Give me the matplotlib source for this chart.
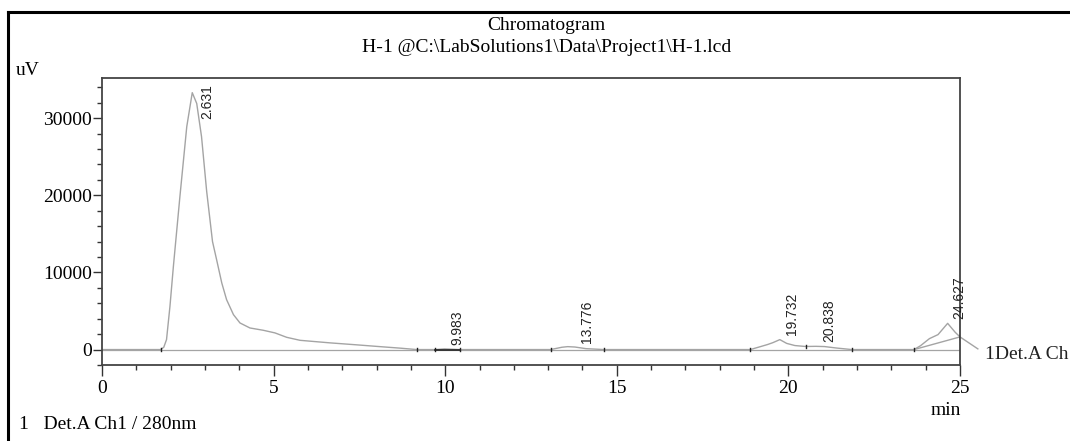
import matplotlib
matplotlib.use("Agg")
import matplotlib.pyplot as plt
from matplotlib.ticker import MultipleLocator
from matplotlib.lines import Line2D

# ---- data ----
time_min = [0.0, 1.71, 1.80, 1.88, 1.98, 2.08, 2.27, 2.47, 2.63, 2.76, 2.90, 3.05,
            3.22, 3.34, 3.49, 3.63, 3.83, 4.02, 4.31, 4.70, 5.04, 5.38, 5.77, 6.64,
            7.40, 8.07, 8.70, 9.17,
            9.70, 9.98, 10.42, 13.07, 13.40, 13.57, 13.78, 14.10, 14.63, 18.89,
            19.20, 19.39, 19.55, 19.75, 19.95, 20.19, 20.50, 20.80, 21.05, 21.40,
            21.85, 23.66, 23.85, 24.11, 24.36, 24.64, 24.86, 25.0]
signal_uv = [0, 0, 300, 1290, 5600, 10780, 19830, 28900, 33300, 31900, 27600, 20500,
             14000, 11640, 8630, 6470, 4530, 3450, 2800, 2500, 2160, 1590, 1200, 870,
             620, 390, 180, 0,
             0, 90, 0, 0, 300, 380, 330, 120, 0, 0,
             400, 650, 900, 1290, 800, 520, 400, 420, 390, 200,
             0, 0, 500, 1420, 1940, 3400, 2240, 1640]

peak_rt = [2.631, 9.983, 13.776, 19.732, 20.838, 24.627]
peak_height = [33300, 90, 330, 1290, 390, 3400]
peak_label = ["2.631", "9.983", "13.776", "19.732", "20.838", "24.627"]

# peak start/end marks (time, signal)
mark_t = [1.71, 9.17, 9.70, 10.42, 13.07, 14.63, 18.89, 20.50, 21.85, 23.66, 25.0]
mark_v = [0, 0, 0, 0, 0, 0, 0, 400, 0, 0, 1640]

# integration baselines drawn in the chart
base_9_t = [9.70, 10.42]
base_9_v = [0, 0]
base_24_t = [23.66, 25.0]
base_24_v = [0, 1640]

title1 = "Chromatogram"
title2 = "H-1 @C:\\LabSolutions1\\Data\\Project1\\H-1.lcd"
channel_label = "1Det.A Ch1"
footer = "1   Det.A Ch1 / 280nm"

SERIF = ["Liberation Serif", "DejaVu Serif"]
SANS = ["Liberation Sans", "DejaVu Sans"]

fig = plt.figure(figsize=(10.70, 4.41), dpi=100)
ax = fig.add_axes([102/1070, 1 - 365/441, (960-102)/1070, (365-78)/441])

trace_col = "#a4a4a4"
ax.axhline(0, color=trace_col, lw=0.9, zorder=1)
ax.plot(time_min, signal_uv, color=trace_col, lw=1.0, zorder=2)
ax.plot(base_24_t, base_24_v, color=trace_col, lw=1.0, zorder=2)
ax.plot(base_9_t, base_9_v, color="#222222", lw=1.2, zorder=3)
for t, v in zip(mark_t, mark_v):
    ax.plot([t, t], [v - 230, v + 230], color="#222222", lw=1.0, zorder=3)

# peak labels
for rt, h, lab in zip(peak_rt, peak_height, peak_label):
    if h > 30000:
        ax.annotate(lab, xy=(rt, h), xytext=(11, -6.5), textcoords="offset points",
                    rotation=90, ha="center", va="center", fontsize=10,
                    family=SANS, color="#222222")
    else:
        ax.annotate(lab, xy=(rt, h), xytext=(9, 3), textcoords="offset points",
                    rotation=90, ha="center", va="bottom", fontsize=10,
                    family=SANS, color="#222222")

ax.set_xlim(0, 25)
ax.set_ylim(-2000, 35200)
ax.xaxis.set_major_locator(MultipleLocator(5))
ax.xaxis.set_minor_locator(MultipleLocator(1))
ax.yaxis.set_major_locator(MultipleLocator(10000))
ax.yaxis.set_minor_locator(MultipleLocator(2000))
ax.tick_params(axis="x", which="major", length=8, width=1.0, pad=3, labelsize=14, color="#333333")
ax.tick_params(axis="x", which="minor", length=3.5, width=1.0, color="#333333")
ax.tick_params(axis="y", which="major", length=6.5, width=1.0, pad=0.5, labelsize=14, color="#333333")
ax.tick_params(axis="y", which="minor", length=3.5, width=1.0, color="#333333")
for lab in ax.get_xticklabels() + ax.get_yticklabels():
    lab.set_family(SERIF)
for sp in ax.spines.values():
    sp.set_color("#444444")
    sp.set_linewidth(1.3)

# channel label outside axes
ax.plot([25.0, 25.52], [1640, 90], color=trace_col, lw=1.0, clip_on=False)
ax.text(25.72, -650, channel_label, ha="left", va="center", fontsize=14,
        family=SERIF, color="#222222", clip_on=False)

# figure texts
fig.text(546.5/1070, 1 - 30/441, title1, ha="center", va="baseline", fontsize=14, family=SERIF)
fig.text(546.5/1070, 1 - 52/441, title2, ha="center", va="baseline", fontsize=14, family=SERIF)
fig.text(16/1070, 1 - 75/441, "uV", ha="left", va="baseline", fontsize=14, family=SERIF)
fig.text(946/1070, 1 - 415/441, "min", ha="center", va="baseline", fontsize=14, family=SERIF)
fig.text(19/1070, 1 - 429/441, footer, ha="left", va="baseline", fontsize=14, family=SERIF)

# outer frame (left and top edges visible)
fig.add_artist(Line2D([8/1070, 8/1070], [0, 1 - 12/441], transform=fig.transFigure,
                      color="black", lw=2.2))
fig.add_artist(Line2D([8/1070, 1], [1 - 12/441, 1 - 12/441], transform=fig.transFigure,
                      color="black", lw=2.2))

fig.savefig("out.png", dpi=100)
